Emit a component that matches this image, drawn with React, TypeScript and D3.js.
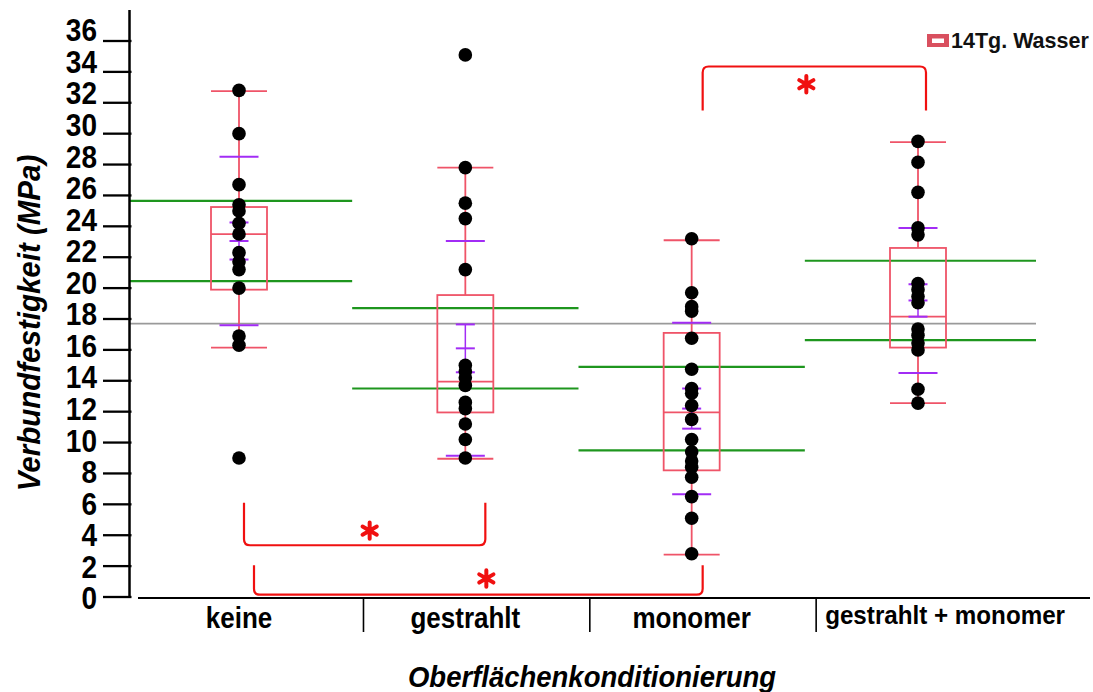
import React from "react";
import * as d3 from "d3";

// Surface conditioning groups
const categories = ["keine", "gestrahlt", "monomer", "gestrahlt + monomer"];

// Individual bond strength measurements (MPa) per group
const keineValues = [32.8, 30.0, 26.7, 25.4, 25.0, 24.2, 23.5, 22.3, 21.7, 21.2, 20.0, 16.9, 16.3, 9.0];
const gestrahltValues = [35.1, 27.8, 25.5, 24.5, 21.2, 15.0, 14.6, 14.2, 13.7, 12.6, 12.2, 11.2, 10.2, 9.0];
const monomerValues = [23.2, 19.7, 18.8, 18.5, 16.75, 14.75, 13.5, 13.2, 12.4, 11.5, 10.2, 9.4, 8.8, 8.4, 7.75, 6.5, 5.1, 2.8];
const gmValues = [29.5, 28.15, 26.2, 23.9, 23.45, 20.3, 19.9, 19.45, 19.05, 17.35, 16.95, 16.45, 16.0, 13.45, 12.55];
const groupValues = [keineValues, gestrahltValues, monomerValues, gmValues];

// Box plot statistics per group
const boxQ1 = [19.9, 11.95, 8.2, 16.15];
const boxMedian = [23.5, 13.95, 11.95, 18.15];
const boxQ3 = [25.25, 19.55, 17.1, 22.6];
const whiskerLow = [16.15, 8.95, 2.75, 12.55];
const whiskerHigh = [32.75, 27.8, 23.1, 29.45];

// Mean, standard deviation, confidence half-width, comparison half-width
const meanValues = [23.05, 16.1, 12.2, 19.2];
const sdValues = [5.45, 6.95, 5.55, 4.7];
const ciHalf = [1.2, 1.55, 1.3, 1.05];
const compareHalf = [2.6, 2.6, 2.7, 2.57];
const grandMean = 17.7;

// Y axis ticks
const yTicks = d3.range(0, 37, 2);

// Significance brackets: pair, bar level, arm end level, star level
const bracketPairs: [string, string][] = [
  ["keine", "gestrahlt"],
  ["keine", "monomer"],
  ["monomer", "gestrahlt + monomer"],
];
const bracketBar = [3.35, 0.15, 34.35];
const bracketArm = [6.1, 2.05, 31.5];
const bracketStarLevel = [4.3, 1.2, 33.2];

const legendLabel = "14Tg. Wasser";
const xTitle = "Oberflächenkonditionierung";
const yTitle = "Verbundfestigkeit (MPa)";

const W = 1093;
const H = 692;
const FONT = "'Liberation Sans', Arial, sans-serif";
const BOX = "#ef5468";
const PURPLE = "#a22cf5";
const GREEN = "#1e961e";
const GRAY = "#9a9a9a";
const RED = "#f01010";

export default function App() {
  const y = d3.scaleLinear().domain([0, 36]).range([597, 41]);
  const labelY = d3.scaleLinear().domain([0, 36]).range([598, 30]);
  const x = d3.scalePoint<string>().domain(categories).range([239, 918]);
  const step = x.step();
  const axisX = 129.5;
  const boxW = 56;
  const sdW = 39;
  const ciW = 19;

  // horizontal extents of group reference lines
  const groupLeft = (i: number) => (i === 0 ? axisX : (x(categories[i - 1])! + x(categories[i])!) / 2);
  const groupRight = (i: number) =>
    i === categories.length - 1 ? x(categories[i])! + 118 : (x(categories[i])! + x(categories[i + 1])!) / 2;

  const armOffsets = [
    [5, 20],
    [15, 11],
    [11, 8],
  ];
  const starShift = [5, 8, -8];
  const star = d3.symbol().type(d3.symbolAsterisk).size(190)()!;

  const bracketPath = (x1: number, x2: number, yBar: number, yArm: number) => {
    const r = 6;
    const s = yBar > yArm ? 1 : -1;
    return `M${x1},${yArm} L${x1},${yBar - s * r} Q${x1},${yBar} ${x1 + r},${yBar} L${x2 - r},${yBar} Q${x2},${yBar} ${x2},${yBar - s * r} L${x2},${yArm}`;
  };

  return (
    <svg
      width={W}
      height={H}
      style={{ position: "absolute", left: 0, top: 0, background: "#fff" }}
      fontFamily={FONT}
    >
      <rect width={W} height={H} fill="#fff" />

      {/* comparison lines per group */}
      {categories.map((c, i) => (
        <g key={"cmp" + c} stroke={GREEN} strokeWidth={2.2}>
          <line x1={groupLeft(i)} x2={groupRight(i)} y1={y(meanValues[i] + compareHalf[i])} y2={y(meanValues[i] + compareHalf[i])} />
          <line x1={groupLeft(i)} x2={groupRight(i)} y1={y(meanValues[i] - compareHalf[i])} y2={y(meanValues[i] - compareHalf[i])} />
        </g>
      ))}

      {/* grand mean */}
      <line x1={axisX} x2={groupRight(categories.length - 1)} y1={y(grandMean)} y2={y(grandMean)} stroke={GRAY} strokeWidth={1.6} />

      {/* box plots */}
      {categories.map((c, i) => {
        const cx = x(c)!;
        return (
          <g key={"box" + c} stroke={BOX} strokeWidth={1.8} fill="none">
            <line x1={cx} x2={cx} y1={y(whiskerHigh[i])} y2={y(boxQ3[i])} />
            <line x1={cx} x2={cx} y1={y(boxQ1[i])} y2={y(whiskerLow[i])} />
            <line x1={cx - boxW / 2} x2={cx + boxW / 2} y1={y(whiskerHigh[i])} y2={y(whiskerHigh[i])} />
            <line x1={cx - boxW / 2} x2={cx + boxW / 2} y1={y(whiskerLow[i])} y2={y(whiskerLow[i])} />
            <rect x={cx - boxW / 2} width={boxW} y={y(boxQ3[i])} height={y(boxQ1[i]) - y(boxQ3[i])} />
            <line x1={cx - boxW / 2} x2={cx + boxW / 2} y1={y(boxMedian[i])} y2={y(boxMedian[i])} />
          </g>
        );
      })}

      {/* mean, confidence and standard deviation marks */}
      {categories.map((c, i) => {
        const cx = x(c)!;
        const m = meanValues[i];
        return (
          <g key={"mean" + c} stroke={PURPLE} strokeWidth={2}>
            <line x1={cx} x2={cx} y1={y(m + ciHalf[i])} y2={y(m - ciHalf[i])} strokeWidth={1.5} />
            <line x1={cx - sdW / 2} x2={cx + sdW / 2} y1={y(m + sdValues[i])} y2={y(m + sdValues[i])} />
            <line x1={cx - sdW / 2} x2={cx + sdW / 2} y1={y(m - sdValues[i])} y2={y(m - sdValues[i])} />
            <line x1={cx - ciW / 2} x2={cx + ciW / 2} y1={y(m + ciHalf[i])} y2={y(m + ciHalf[i])} />
            <line x1={cx - ciW / 2} x2={cx + ciW / 2} y1={y(m)} y2={y(m)} />
            <line x1={cx - ciW / 2} x2={cx + ciW / 2} y1={y(m - ciHalf[i])} y2={y(m - ciHalf[i])} />
          </g>
        );
      })}

      {/* individual measurements */}
      {categories.map((c, i) => (
        <g key={"pts" + c} fill="#000">
          {groupValues[i].map((v, j) => (
            <circle key={j} cx={x(c)!} cy={y(v)} r={6.8} />
          ))}
        </g>
      ))}

      {/* significance brackets */}
      {bracketPairs.map(([a, b], k) => {
        const x1 = x(a)! + armOffsets[k][0];
        const x2 = x(b)! + armOffsets[k][1];
        const starY = y(bracketStarLevel[k]);
        return (
          <g key={"br" + k}>
            <path d={bracketPath(x1, x2, y(bracketBar[k]), y(bracketArm[k]))} fill="none" stroke={RED} strokeWidth={2.2} />
            <path
              d={star}
              transform={`translate(${(x1 + x2) / 2 + starShift[k]},${starY})`}
              fill="none"
              stroke={RED}
              strokeWidth={4}
              strokeLinecap="round"
            />
          </g>
        );
      })}

      {/* y axis */}
      <line x1={axisX} x2={axisX} y1={10} y2={597} stroke="#000" strokeWidth={2.5} />
      {yTicks.map((t) => (
        <g key={"yt" + t}>
          <line x1={103} x2={axisX + 2} y1={y(t)} y2={y(t)} stroke="#000" strokeWidth={2.3} />
          <g transform={`translate(97,${labelY(t)}) scale(1,1.12)`}>
            <text textAnchor="end" dy="0.36em" fontSize={28} fontWeight="bold" fill="#000">
              {t}
            </text>
          </g>
        </g>
      ))}

      {/* x axis */}
      <line x1={138} x2={1090} y1={598} y2={598} stroke="#000" strokeWidth={2} />
      {categories.slice(0, -1).map((c) => {
        const sx = x(c)! + step * 0.55;
        return <line key={"sep" + c} x1={sx} x2={sx} y1={598} y2={632} stroke="#000" strokeWidth={1.6} />;
      })}
      {categories.map((c, i) => {
        const last = i === categories.length - 1;
        const tx = last ? x(categories[i - 1])! + step * 0.55 + 9 : x(c)!;
        return (
          <g key={"xl" + c} transform={`translate(${tx},${last ? 624 : 628}) scale(1,1.1)`}>
            <text textAnchor={last ? "start" : "middle"} fontSize={last ? 24.2 : 26} fontWeight="bold" fill="#000">
              {c}
            </text>
          </g>
        );
      })}

      {/* axis titles */}
      <g transform="translate(592,687) scale(1,1.08)">
        <text textAnchor="middle" fontSize={27.5} fontWeight="bold" fontStyle="italic" fill="#000">
          {xTitle}
        </text>
      </g>
      <g transform="translate(40,323) rotate(-90) scale(1,1.05)">
        <text textAnchor="middle" fontSize={29.5} fontWeight="bold" fontStyle="italic" fill="#000">
          {yTitle}
        </text>
      </g>

      {/* legend */}
      <g>
        <rect x={927} y={34} width={22} height={13} fill="#d9505f" />
        <rect x={932} y={38.5} width={12} height={4.5} fill="#fff" />
        <text x={951} y={48} fontSize={21.5} fontWeight="bold" fill="#111">
          {legendLabel}
        </text>
      </g>
    </svg>
  );
}
